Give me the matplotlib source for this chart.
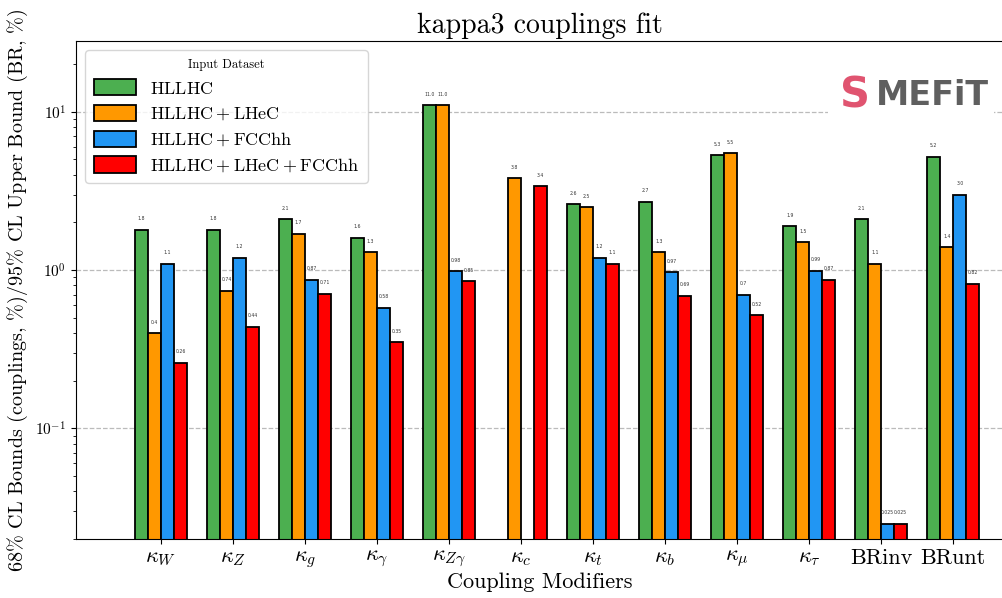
import matplotlib
matplotlib.use("Agg")
import matplotlib.pyplot as plt
import numpy as np

plt.rcParams["font.family"] = "serif"
plt.rcParams["font.serif"] = ["cmr10", "DejaVu Serif"]
plt.rcParams["mathtext.fontset"] = "cm"
plt.rcParams["axes.unicode_minus"] = False
plt.rcParams["axes.formatter.use_mathtext"] = True

# coupling modifiers on the x axis
categories = [r"$\kappa_W$", r"$\kappa_Z$", r"$\kappa_g$", r"$\kappa_\gamma$",
              r"$\kappa_{Z\gamma}$", r"$\kappa_c$", r"$\kappa_t$", r"$\kappa_b$",
              r"$\kappa_\mu$", r"$\kappa_\tau$", "BRinv", "BRunt"]

datasets = [r"$\mathrm{HLLHC}$", r"$\mathrm{HLLHC+LHeC}$",
            r"$\mathrm{HLLHC+FCChh}$", r"$\mathrm{HLLHC+LHeC+FCChh}$"]

nan = np.nan
hllhc = [1.8, 1.8, 2.1, 1.6, 11.0, nan, 2.6, 2.7, 5.3, 1.9, 2.1, 5.2]
hllhc_lhec = [0.4, 0.74, 1.7, 1.3, 11.0, 3.8, 2.5, 1.3, 5.5, 1.5, 1.1, 1.4]
hllhc_fcchh = [1.1, 1.2, 0.87, 0.58, 0.98, nan, 1.2, 0.97, 0.7, 0.99, 0.025, 3.0]
hllhc_all = [0.26, 0.44, 0.71, 0.35, 0.85, 3.4, 1.1, 0.69, 0.52, 0.87, 0.025, 0.82]

series = [hllhc, hllhc_lhec, hllhc_fcchh, hllhc_all]
colors = ["#4caf50", "#ff9800", "#2196f3", "#ff0000"]


def fmt(v):
    if v >= 1:
        return f"{v:.1f}"
    return f"{v:.2g}"


fig = plt.figure(figsize=(10.03, 5.98), dpi=100)
ax = fig.add_axes([76 / 1003, 1 - 539 / 598, 1 - 76 / 1003, (539 - 41) / 598])

x = np.arange(len(categories))
width = 0.18
for i, (vals, col, lab) in enumerate(zip(series, colors, datasets)):
    pos = x + (i - 1.5) * width
    ax.bar(pos, vals, width, color=col, edgecolor="black", linewidth=1.3,
           label=lab, zorder=2)
    for xp, v in zip(pos, vals):
        if np.isnan(v):
            continue
        ax.annotate(fmt(v), (xp, v), xytext=(0, 6), textcoords="offset points",
                    ha="center", va="bottom", fontsize=3.3, family="DejaVu Sans",
                    color="#333333")

ax.set_yscale("log")
ax.set_ylim(0.02, 28)
ax.set_xlim(-1.18, 11.69)
ax.set_xticks(x)
ax.set_xticklabels(categories, fontsize=16)
ax.tick_params(axis="y", labelsize=11)
ax.grid(axis="y", which="major", linestyle="--", color="#bbbbbb", linewidth=0.9, zorder=0)
ax.set_axisbelow(True)

ax.set_title("kappa3 couplings fit", fontsize=20)
ax.set_xlabel("Coupling Modifiers", fontsize=16, labelpad=2)
ax.set_ylabel(r"68$\%$ CL Bounds (couplings, $\%$)/95$\%$ CL Upper Bound (BR, $\%$)",
              fontsize=14.5)

ax.legend(loc="upper left", title="Input Dataset", fontsize=13,
          title_fontsize=9, handlelength=2.3, handleheight=1.0,
          labelspacing=0.45, borderpad=0.5, fancybox=True, framealpha=0.8)

# logo
fig.text(0.852, 0.84, "S", fontsize=30, color="#e05470", fontweight="bold",
         family="DejaVu Sans", ha="center", va="center",
         bbox=dict(facecolor="white", edgecolor="none", pad=8))
fig.text(0.873, 0.84, "MEFiT", fontsize=24, color="#5f5f5f", fontweight="bold",
         family="DejaVu Sans", ha="left", va="center",
         bbox=dict(facecolor="white", edgecolor="none", pad=4))

fig.savefig("out.png", dpi=100)
